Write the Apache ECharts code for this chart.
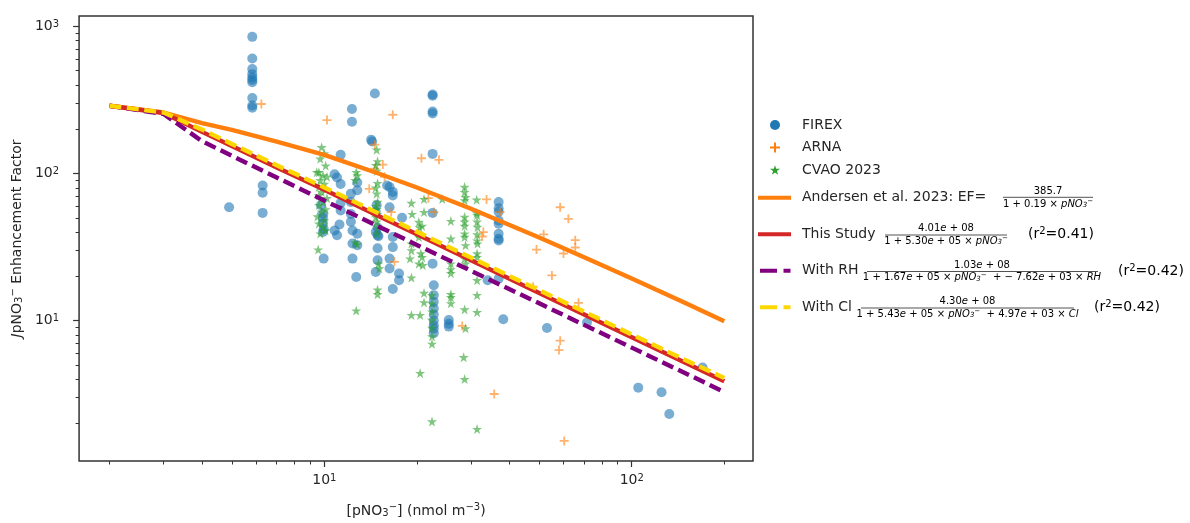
<!DOCTYPE html>
<html><head><meta charset="utf-8">
<script src="https://cdn.jsdelivr.net/npm/echarts@6/dist/echarts.min.js"></script>
<style>html,body{margin:0;padding:0;background:#fff}#c{width:1190px;height:523px}</style>
</head><body><div id="c"></div>
<script>
// ---------------- data ----------------
const FIREX = [
 [5.83,850],[5.83,605],[5.83,513],[5.83,474],[5.83,450],[5.83,432],[5.83,417],[5.83,326],[5.83,290],[5.83,280],
 [6.3,83],[6.3,74],[6.3,54],[4.9,59],
 [14.6,350],[12.3,275],[12.3,225],[14.2,170],[14.3,165],
 [22.5,345],[22.5,338],[22.5,264],[22.5,256],[22.5,136],
 [11.3,134],[10.8,99],[11.0,94],[11.3,85],[12.8,87],[12.8,77],[12.2,73],[12.2,64],[11.3,63],[11.3,56],
 [9.75,61],[9.9,53],[9.9,46],[9.9,40],[10.8,41],[11.2,45],[9.9,50],
 [16.3,81],[16.7,75],[16.7,71],[16.3,59],[14.8,61],[14.7,55],[17.9,50],[22.5,54],[16.0,83],
 [36.9,64],[36.9,58],[36.9,55],[36.9,48],[36.9,45.6],[36.9,39],[36.9,36],[36.9,35],
 [34,18.8],[36.9,19.3],[38.2,10.2],[53,8.9],[71.5,9.7],[105,3.5],[125,3.26],[132.5,2.32],[170,4.8],
 [9.95,42],[9.95,26.4],[12.35,41],[12.8,39],[12.35,33.4],[12.8,32.5],[12.35,26.4],[12.7,19.8],
 [14.9,43],[14.9,38],[14.9,31],[14.9,25.7],[14.7,21.4],
 [16.7,37],[16.7,31.6],[16.3,26.4],[16.3,22.6],[17.5,20.9],[17.5,18.8],[16.7,16.4],
 [22.5,24.4],[22.7,17.4],[22.7,14.9],[22.7,13.4],[22.7,12.1],[22.7,11],[22.7,10],[22.7,9.3],[22.7,8.8],[22.7,8.2],
 [25.4,10.1],[25.4,9.5],[25.4,9.1],
 [12.2,53],[12.2,47],[11.0,38],[14.7,40],[15.0,37.5]
];
const ARNA = [
 [6.24,297],[10.2,231],[16.7,251],[14.6,157],[20.7,127],[23.6,124],[15.5,115],[14.6,108],[15.7,95],[14.0,78.7],
 [16.5,54.7],[22.7,54.7],[21.8,68],[33.7,66.7],[37.3,54.7],[32.9,40],[32.6,37.3],[58.5,59],[62.2,49.2],[51.7,38.6],
 [49,30.4],[60,28.6],[65.5,35.2],[65.5,31.4],[55,20.3],[47.8,17],[67.1,13.2],[58.5,7.3],[58,6.3],[35.7,3.17],
 [60.3,1.52],[16.9,25.1],[28.1,9.2]
];
const CVAO = [
 [9.8,151],[10.0,137],[9.7,126],[10.1,113],[9.6,102],[9.45,102],[9.9,97],[10.2,95],[9.7,90],[10.0,85],[9.6,81],
 [10.1,78],[9.8,75],[9.6,71],[10.2,68],[9.9,64],[9.6,61],[10.1,57],[9.8,55],[9.5,51],[10.0,48],[9.6,45.6],
 [9.9,43.3],[10.1,41],[9.7,39],[9.55,30.4],
 [12.7,102],[12.8,97],[12.6,90],[12.6,34],[12.8,33],[12.7,11.7],
 [14.8,145],[14.9,121],[14.7,114],[14.8,104],[14.9,86],[14.7,80],[14.8,73],[14.9,64],[14.7,60],[14.8,57],[14.9,53],
 [14.7,50.6],[14.8,47],[14.9,43.3],[14.8,39],[15.0,24.4],[15.1,22.6],[14.9,16.2],[14.9,15.1],
 [19.2,63],[21.1,67],[21.1,54.7],[20.3,46.8],[20.8,44],[19.3,53],[20.4,43],[20.3,39],[19.2,33.4],[19.2,30],
 [20.6,28.6],[19.0,26.4],[20.3,24.4],[19.2,19.6],[21.1,15.4],[21.1,13.3],[19.2,10.9],[20.5,10.9],[20.5,4.39],
 [20.3,37],[20.8,27],[20.9,23.8],
 [22.4,14.9],[22.4,13.1],[22.4,11.5],[22.4,10.1],[22.4,8.9],[22.4,7.8],[22.4,6.95],[22.4,2.06],[24.2,67],
 [25.8,47.5],[25.8,36],[25.8,24.4],[25.8,22.3],[25.8,21],[25.8,15.1],[25.8,14.4],[25.8,13.1],
 [28.6,81],[28.6,74.7],[28.8,69],[28.6,65.6],[28.6,50.6],[28.6,47],[28.6,44],[28.6,39],[28.6,37],[28.8,32.5],
 [28.6,26.4],[28.8,24.4],[28.6,11.9],[28.8,8.86],[28.4,5.63],[28.6,4.0],
 [31.3,66.3],[31.3,54],[31.4,52],[31.4,47],[31.5,43.3],[31.4,38.5],[31.4,35],[31.5,33.4],[31.4,28.6],[31.4,27],
 [31.4,18.8],[31.4,14.9],[31.4,11.4],[31.4,1.83]
];
const CURVE_X    = [2, 3, 4, 5, 7, 10, 15, 20, 30, 50, 70, 100, 150, 200];
const ANDERSEN_Y = [289, 260, 220, 198, 165, 134, 100, 80.4, 57.6, 36.7, 27.0, 19.3, 13.1, 9.9];
const STUDY_Y    = [289, 258, 192, 154, 110, 77.5, 51.5, 38.6, 25.7, 15.4, 11.0, 7.7, 5.14, 3.87];
const RH_Y       = [289, 254, 166, 132, 94, 65.5, 43.7, 32.7, 21.8, 13.1, 9.35, 6.55, 4.37, 3.27];
const CL_Y       = [289, 260, 199, 159, 114, 80.5, 53.6, 40.2, 26.8, 16.1, 11.5, 8.05, 5.37, 4.07];
const SERIES_NAMES = ['FIREX', 'ARNA', 'CVAO 2023', 'Andersen et al. 2023: EF=', 'This Study', 'With RH', 'With Cl'];
const X_MAJOR = [10, 100];
const X_MINOR = [2,3,4,5,6,7,8,9,20,30,40,50,60,70,80,90,200];
const Y_MAJOR = [10, 100, 1000];
const Y_MINOR = [2,3,4,5,6,7,8,9,20,30,40,50,60,70,80,90,200,300,400,500,600,700,800,900];
const X_RANGE = [1.593, 248];
const Y_RANGE = [1.11, 1178];

// ---------------- styling ----------------
const FONT = 'DejaVu Sans';
const TXT = '#262626';
const AX = '#333333';
const PLUS = 'path://M4,0H6V4H10V6H6V10H4V6H0V4H4Z';
const STAR = 'path://M50,0L61.2,34.5L97.6,34.5L68.2,55.9L79.4,90.5L50,69.1L20.6,90.5L31.8,55.9L2.4,34.5L38.8,34.5Z';
const SOLID_ICON = 'path://M0,0H33V4H0Z';
const DASH_ICON = 'path://M2,0H19V4H2Z M25.5,0H32.5V4H25.5Z M0,0H0.01V4H0Z M32.99,0H33V4H32.99Z';
const LINE_W = 4.4;
const DASH = [12, 5.5];

const tickRich = {
  b: {fontSize: 14, fontFamily: FONT, color: TXT, lineHeight: 14, padding: [3,0,0,0], verticalAlign: 'bottom'},
  p: {fontSize: 10, fontFamily: FONT, color: TXT, lineHeight: 10, verticalAlign: 'top'}
};
function powLabel(v) { return '{b|10}{p|' + Math.round(Math.log10(v)) + '}'; }

const nameRich = {
  n: {fontSize: 14, fontFamily: FONT, color: TXT, lineHeight: 16, padding: [2,0,0,0], verticalAlign: 'bottom'},
  i: {fontSize: 14, fontFamily: FONT, fontStyle: 'italic', color: TXT, lineHeight: 16, padding: [2,0,0,0], verticalAlign: 'bottom'},
  s: {fontSize: 10, fontFamily: FONT, color: TXT, lineHeight: 10, verticalAlign: 'bottom'},
  p: {fontSize: 10, fontFamily: FONT, color: TXT, lineHeight: 10, verticalAlign: 'top'}
};

const fracRich = {
  n: {fontSize: 10, fontFamily: FONT, color: TXT, lineHeight: 11, padding: [1,0,0,0], verticalAlign: 'bottom'},
  i: {fontSize: 10, fontFamily: FONT, fontStyle: 'italic', color: TXT, lineHeight: 11, padding: [1,0,0,0], verticalAlign: 'bottom'},
  s: {fontSize: 7, fontFamily: FONT, fontStyle: 'italic', color: TXT, lineHeight: 7, verticalAlign: 'bottom'},
  p: {fontSize: 7, fontFamily: FONT, color: TXT, lineHeight: 7, verticalAlign: 'top'}
};
const r2Rich = {
  n: {fontSize: 14, fontFamily: FONT, color: TXT, lineHeight: 15, padding: [2,0,0,0], verticalAlign: 'bottom'},
  p: {fontSize: 10, fontFamily: FONT, color: TXT, lineHeight: 10, verticalAlign: 'top'}
};

function fraction(cx, x0, x1, yNum, yBar, yDen, num, den) {
  return [
    {type: 'text', x: cx, y: yNum, style: {text: num, rich: fracRich, align: 'center', verticalAlign: 'middle'}},
    {type: 'line', shape: {x1: x0, y1: yBar, x2: x1, y2: yBar}, style: {stroke: TXT, lineWidth: 0.8}},
    {type: 'text', x: cx, y: yDen, style: {text: den, rich: fracRich, align: 'center', verticalAlign: 'middle'}}
  ];
}
function r2(x, y, val) {
  return {type: 'text', x: x, y: y, style: {text: '{n|(r}{p|2}{n|=' + val + ')}', rich: r2Rich, align: 'left', verticalAlign: 'middle'}};
}
const PNO3 = '{i|pNO}{s|3}{p|−}';
const graphics = [].concat(
  fraction(1048, 1003, 1093, 190.5, 197.3, 203.5, '{n|385.7}', '{n|1 + 0.19 × }' + PNO3),
  fraction(946, 885, 1007, 228, 235, 240.5, '{n|4.01}{i|e}{n| + 08}', '{n|1 + 5.30}{i|e}{n| + 05 × }' + PNO3),
  fraction(982, 867, 1098, 264.7, 271.5, 277, '{n|1.03}{i|e}{n| + 08}', '{n|1 + 1.67}{i|e}{n| + 05 × }' + PNO3 + '{n|  + − 7.62}{i|e}{n| + 03 × }{i|RH}'),
  fraction(967.5, 861, 1074, 301.3, 308, 313.5, '{n|4.30}{i|e}{n| + 08}', '{n|1 + 5.43}{i|e}{n| + 05 × }' + PNO3 + '{n|  + 4.97}{i|e}{n| + 03 × }{i|Cl}'),
  [r2(1028, 234, '0.41'), r2(1118, 270.7, '0.42'), r2(1094, 306.7, '0.42')]
);

function curve(ys) { return CURVE_X.map((x, i) => [x, ys[i]]); }

const chart = echarts.init(document.getElementById('c'), null, {renderer: 'canvas'});
function lineSeries(idx, ys, color, dashed) {
  const ls = {color: color, width: LINE_W, cap: 'butt', join: 'round'};
  if (dashed) ls.type = DASH;
  return {name: SERIES_NAMES[idx], type: 'line', data: curve(ys), symbol: 'none', showSymbol: false,
          lineStyle: ls, itemStyle: {color: color}, emphasis: {disabled: true}, z: 3};
}
const option = {
  animation: false,
  backgroundColor: '#ffffff',
  grid: {left: 78, right: 437, top: 16, bottom: 62, show: true, borderColor: AX, borderWidth: 1.5, backgroundColor: 'rgba(0,0,0,0)'},
  xAxis: [
    {type: 'log', logBase: 10, min: X_RANGE[0], max: X_RANGE[1], position: 'bottom',
     axisLine: {show: false}, splitLine: {show: false},
     axisTick: {show: true, customValues: X_MAJOR, length: 6, lineStyle: {color: AX, width: 1.2}},
     axisLabel: {show: true, customValues: X_MAJOR, margin: 12, formatter: powLabel, rich: tickRich},
     name: '{n|[pNO}{s|3}{p|−}{n|] (nmol m}{p|−3}{n|)}', nameLocation: 'middle', nameGap: 41,
     nameTextStyle: {rich: nameRich}},
    {type: 'log', logBase: 10, min: X_RANGE[0], max: X_RANGE[1], position: 'bottom',
     axisLine: {show: false}, splitLine: {show: false},
     axisTick: {show: true, customValues: X_MINOR, length: 3.5, lineStyle: {color: AX, width: 1}},
     axisLabel: {show: false}}
  ],
  yAxis: [
    {type: 'log', logBase: 10, min: Y_RANGE[0], max: Y_RANGE[1], position: 'left',
     axisLine: {show: false}, splitLine: {show: false},
     axisTick: {show: true, customValues: Y_MAJOR, length: 6, lineStyle: {color: AX, width: 1.2}},
     axisLabel: {show: true, customValues: Y_MAJOR, margin: 20, formatter: powLabel, rich: tickRich},
     name: '{i|J}{n|pNO}{s|3}{p|−}{n| Enhancement Factor}', nameLocation: 'middle', nameGap: 47, nameRotate: 90,
     nameTextStyle: {rich: nameRich}},
    {type: 'log', logBase: 10, min: Y_RANGE[0], max: Y_RANGE[1], position: 'left',
     axisLine: {show: false}, splitLine: {show: false},
     axisTick: {show: true, customValues: Y_MINOR, length: 3.5, lineStyle: {color: AX, width: 1}},
     axisLabel: {show: false}}
  ],
  legend: [
    {data: SERIES_NAMES.slice(0, 3), orient: 'vertical', left: 770, top: 117, padding: 0,
     itemWidth: 10, itemHeight: 10, itemGap: 6.5,
     textStyle: {fontSize: 14, fontFamily: FONT, color: TXT, lineHeight: 16, padding: [0,0,0,17]},
     itemStyle: {opacity: 1}, selectedMode: false},
    {data: [
       {name: SERIES_NAMES[3], icon: SOLID_ICON},
       {name: SERIES_NAMES[4], icon: SOLID_ICON},
       {name: SERIES_NAMES[5], icon: DASH_ICON},
       {name: SERIES_NAMES[6], icon: DASH_ICON}],
     orient: 'vertical', left: 758, top: 189.7, padding: 0, itemWidth: 33, itemHeight: 14, itemGap: 20.5,
     symbolKeepAspect: true,
     textStyle: {fontSize: 14, fontFamily: FONT, color: TXT, lineHeight: 16, padding: [0,0,0,6]},
     itemStyle: {opacity: 1, borderWidth: 0}, selectedMode: false}
  ],
  graphic: graphics,
  series: [
    {name: SERIES_NAMES[0], type: 'scatter', data: FIREX, symbol: 'circle', symbolSize: 10,
     itemStyle: {color: '#1f77b4', opacity: 0.6}, z: 2},
    {name: SERIES_NAMES[1], type: 'scatter', data: ARNA, symbol: PLUS, symbolSize: 9,
     itemStyle: {color: '#ff7f0e', opacity: 0.6}, z: 2},
    {name: SERIES_NAMES[2], type: 'scatter', data: CVAO, symbol: STAR, symbolSize: 10,
     itemStyle: {color: '#2ca02c', opacity: 0.6}, z: 2},
    lineSeries(3, ANDERSEN_Y, '#ff7f0e', false),
    lineSeries(4, STUDY_Y, '#d62728', false),
    lineSeries(5, RH_Y, '#800080', true),
    lineSeries(6, CL_Y, '#ffd700', true)
  ]
};
chart.setOption(option);
</script>
</body></html>
